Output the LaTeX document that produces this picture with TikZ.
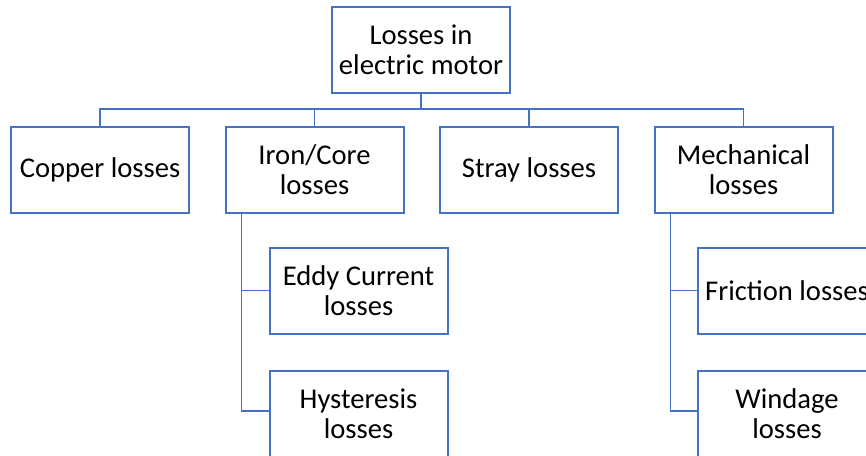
\documentclass[tikz,border=0pt]{standalone}
\usepackage{fontspec}
\setmainfont{Carlito}
\definecolor{boxblue}{HTML}{4472C4}

\begin{document}
\begin{tikzpicture}
[
	x=0.5pt,y=-0.5pt,
	box/.style={rectangle,draw=boxblue,line width=1pt,align=center,
		minimum width=89pt,minimum height=43pt,inner sep=0pt,
		font=\fontsize{14.3}{15}\selectfont},
	link/.style={draw=boxblue,line width=0.65pt}
]

	\useasboundingbox (0,0) rectangle (866,455);
	\clip (0,0) rectangle (866,455);

	\node[box] at (421,49.5) (top) {Losses in\\electric motor};

	\node[box] at (100,170) (copper) {Copper losses};
	\node[box] at (314.5,170) (iron) {Iron/Core\\losses};
	\node[box] at (529,170) (stray) {Stray losses};
	\node[box] at (743.5,170) (mech) {Mechanical\\losses};

	\node[box] at (358.5,290.5) (eddy) {Eddy Current\\losses};
	\node[box] at (358.5,414) (hyst) {Hysteresis\\losses};
	\node[box] at (787,290.5) (friction) {Friction losses};
	\node[box] at (787,414) (windage) {Windage\\losses};

	\coordinate (bus) at (421,109);
	\draw[link] (top) -- (bus);
	\draw[link] (bus) -| (copper);
	\draw[link] (bus) -| (iron);
	\draw[link] (bus) -| (stray);
	\draw[link] (bus) -| (mech);

	\coordinate (ironleg) at ([xshift=8.5pt]iron.south west);
	\draw[link] (ironleg) |- (eddy);
	\draw[link] (ironleg) |- ([yshift=1.5pt]hyst.west);

	\coordinate (mechleg) at ([xshift=8.5pt]mech.south west);
	\draw[link] (mechleg) |- (friction);
	\draw[link] (mechleg) |- ([yshift=1.5pt]windage.west);

\end{tikzpicture}
\end{document}
